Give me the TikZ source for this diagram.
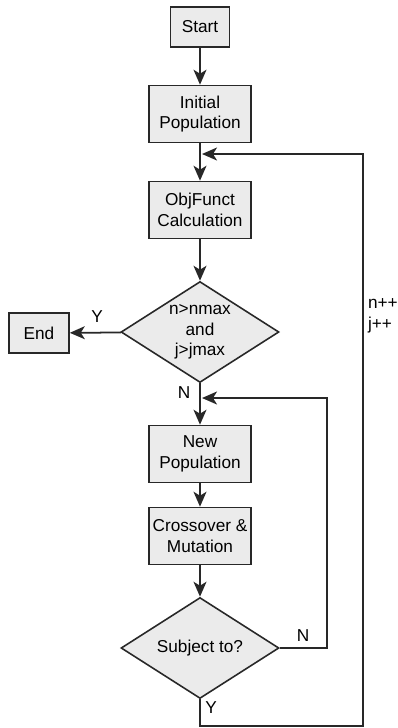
\documentclass[tikz,border=0pt]{standalone}
\usepackage{fontspec}
\setmainfont{Liberation Sans}
\usepackage{tikz}
\usetikzlibrary{arrows.meta,shapes.geometric,calc}
\definecolor{boxgray}{RGB}{235,235,235}
\definecolor{linegray}{RGB}{40,40,40}

\begin{document}
\begin{tikzpicture}[x=0.02cm, y=-0.02cm,
  every node/.style={font=\fontsize{9.8}{11.8}\selectfont},
  box/.style={draw=linegray, fill=boxgray, line width=0.9pt, align=center, inner sep=0pt,
    minimum width=2.04cm, minimum height=1.14cm},
  small/.style={box, minimum width=1.2cm, minimum height=0.8cm},
  decide/.style={draw=linegray, fill=boxgray, line width=0.9pt, diamond, aspect=1.6,
    align=center, inner sep=0pt, minimum width=3.16cm, minimum height=2.02cm},
  conn/.style={draw=linegray, line width=1pt},
  arr/.style={conn, -{Stealth[length=0.3cm, width=0.26cm, inset=0.08cm]}},
  lab/.style={inner sep=1pt}
]
\useasboundingbox (0,0) rectangle (398,728);

% main column
\node[small, minimum width=1.18cm] (start) at (200,27) {Start};
\node[box] (init) at (200,114) {Initial\\Population};
\node[box] (obj) at (200,210) {ObjFunct\\Calculation};
\node[decide] (dec1) at (200,332) {n>nmax\\and\\j>jmax};
\node[small] (end) at (39,333) {End};
\node[box] (newpop) at (200,454) {New\\Population};
\node[box] (cross) at (200,536) {Crossover \&\\Mutation};
\node[decide] (dec2) at (200,648) {Subject to?};

% loop corners
\coordinate (back1) at (202,154);
\coordinate (back2) at (202,398);
\coordinate (loopR) at (327,398);
\coordinate (outR) at (363,726);

\draw[arr] (start) -- (init);
\draw[arr] (init) -- (obj);
\draw[arr] (obj) -- (dec1);
\draw[arr] (dec1) -- (end);
\draw[arr] (dec1) -- (newpop);
\draw[arr] (newpop) -- (cross);
\draw[arr] (cross) -- (dec2);
\draw[arr] (dec2.east) -| (loopR) -- (back2);
\draw[arr] (dec2.south) |- (outR) -- (outR |- back1) -- (back1);

% labels
\node[lab] (ylab1) at (97,317) {Y};
\node[lab] (nlab1) at (184,393) {N};
\node[lab] (nlab2) at (303,636) {N};
\node[lab] (ylab2) at (211,708) {Y};
\node[lab, anchor=west, align=left] (incr) at (366,316) {n++\\j++};
\end{tikzpicture}
\end{document}
